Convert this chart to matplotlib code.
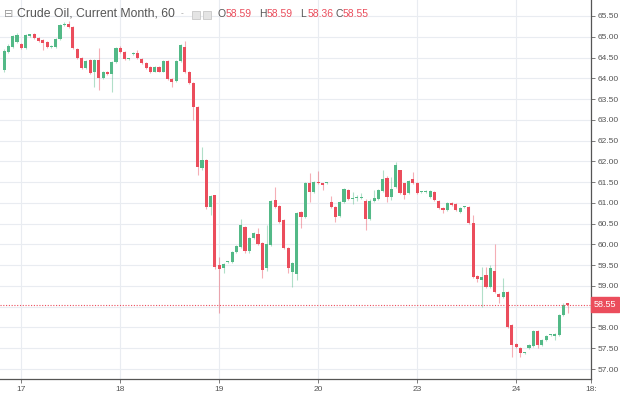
import numpy as np
import matplotlib.pyplot as plt
from matplotlib.patches import Rectangle

# hourly candles, Crude Oil current month
opens = [64.20, 64.63, 64.75, 64.88, 64.83, 64.73, 65.03, 65.07, 64.97, 64.92,
         64.87, 64.76, 64.76, 64.95, 65.28, 65.31, 65.24, 64.71, 64.50, 64.25,
         64.44, 64.15, 64.44, 64.01, 64.15, 64.10, 64.39, 64.73, 64.63, 64.46,
         64.58, 64.61, 64.46, 64.37, 64.27, 64.16, 64.27, 64.16, 64.42, 63.98,
         63.94, 64.42, 64.76, 64.15, 63.89, 63.31, 61.84, 62.03, 60.90, 61.18,
         59.50, 59.43, 59.58, 59.58, 59.82, 59.94, 60.42, 59.84, 60.15, 60.25,
         60.03, 59.44, 59.99, 61.07, 60.93, 60.59, 59.91, 59.34, 59.29, 60.78,
         60.66, 61.48, 61.26, 61.50, 61.47, 61.48, 61.02, 60.90, 60.68, 61.02,
         61.31, 61.09, 61.11, 61.12, 61.05, 60.61, 61.04, 61.10, 61.29, 61.60,
         61.14, 61.38, 61.78, 61.47, 61.24, 61.57, 61.48, 61.26, 61.27, 61.14,
         61.26, 61.05, 60.88, 60.83, 61.00, 60.97, 60.78, 60.89, 60.90, 60.52,
         59.24, 59.14, 59.26, 58.97, 59.36, 58.80, 58.73, 58.85, 58.06, 57.60,
         57.50, 57.38, 57.50, 57.55, 57.91, 57.58, 57.70, 57.81, 57.80, 57.82,
         58.30, 58.59]
highs = [64.70, 64.83, 65.05, 65.08, 64.86, 65.06, 65.07, 65.09, 64.99, 64.94,
         64.89, 64.79, 64.97, 65.30, 65.36, 65.38, 65.26, 64.73, 64.52, 64.45,
         64.47, 64.47, 64.73, 64.18, 64.17, 64.41, 64.75, 64.78, 64.65, 64.49,
         64.63, 64.68, 64.48, 64.39, 64.29, 64.29, 64.29, 64.44, 64.44, 64.00,
         64.44, 64.82, 64.90, 64.17, 63.91, 63.33, 62.35, 62.05, 61.20, 61.20,
         59.70, 59.56, 59.60, 59.84, 59.98, 60.60, 60.45, 60.17, 60.30, 60.40,
         60.05, 60.47, 61.06, 61.38, 60.95, 60.61, 59.93, 59.57, 60.78, 60.80,
         61.50, 61.72, 61.52, 61.77, 61.49, 61.50, 61.16, 60.92, 61.04, 61.35,
         61.33, 61.26, 61.20, 61.24, 61.10, 61.10, 61.30, 61.33, 61.80, 61.65,
         61.63, 61.98, 61.80, 61.49, 61.55, 61.74, 61.50, 61.28, 61.31, 61.30,
         61.28, 61.07, 60.90, 61.02, 61.02, 60.99, 60.90, 60.93, 60.92, 60.70,
         59.26, 59.46, 59.46, 59.50, 60.00, 58.82, 59.20, 58.87, 58.08, 57.62,
         57.52, 57.40, 57.60, 57.93, 57.93, 57.72, 57.82, 57.84, 57.86, 58.32,
         58.60, 58.59]
lows = [64.15, 64.60, 64.72, 64.85, 64.70, 64.70, 65.00, 64.95, 64.88, 64.68,
        64.74, 64.74, 64.74, 64.93, 65.26, 65.22, 64.70, 64.46, 64.22, 64.22,
        64.10, 63.79, 63.72, 63.98, 64.07, 63.67, 64.36, 64.60, 64.43, 64.44,
        64.56, 64.47, 64.34, 64.22, 64.13, 64.14, 64.14, 64.14, 63.96, 63.79,
        63.92, 64.40, 64.12, 63.86, 63.00, 61.67, 61.80, 60.85, 60.70, 59.40,
        58.35, 59.30, 59.56, 59.56, 59.80, 59.92, 59.80, 59.80, 60.13, 59.98,
        59.20, 59.35, 59.97, 60.88, 60.52, 59.89, 59.31, 58.98, 59.14, 60.39,
        60.64, 61.02, 61.24, 61.45, 61.31, 61.46, 60.88, 60.55, 60.66, 61.00,
        61.07, 60.97, 61.05, 61.10, 60.35, 60.59, 61.02, 61.08, 61.27, 61.02,
        61.06, 61.36, 61.22, 61.10, 61.22, 61.46, 61.22, 61.24, 61.25, 61.12,
        61.05, 60.86, 60.76, 60.81, 60.93, 60.81, 60.76, 60.87, 60.50, 59.20,
        59.10, 58.50, 58.95, 58.95, 58.84, 58.58, 58.71, 57.98, 57.30, 57.51,
        57.30, 57.36, 57.48, 57.53, 57.50, 57.56, 57.68, 57.79, 57.70, 57.80,
        58.28, 58.36]
closes = [64.66, 64.78, 65.02, 65.04, 64.73, 65.04, 65.05, 64.97, 64.90, 64.85,
          64.76, 64.77, 64.95, 65.28, 65.31, 65.24, 64.73, 64.49, 64.25, 64.42,
          64.13, 64.44, 64.01, 64.15, 64.10, 64.39, 64.73, 64.63, 64.46, 64.47,
          64.61, 64.49, 64.37, 64.25, 64.15, 64.27, 64.16, 64.42, 63.98, 63.92,
          64.42, 64.80, 64.15, 63.89, 63.31, 61.86, 62.03, 60.90, 61.17, 59.46,
          59.41, 59.53, 59.58, 59.82, 59.96, 60.47, 59.84, 60.15, 60.27, 60.00,
          59.38, 60.01, 61.04, 60.90, 60.54, 59.91, 59.43, 59.55, 60.76, 60.66,
          61.48, 61.26, 61.50, 61.47, 61.42, 61.48, 60.90, 60.66, 61.02, 61.33,
          61.09, 61.10, 61.12, 61.15, 60.60, 61.04, 61.12, 61.31, 61.58, 61.14,
          61.33, 61.91, 61.24, 61.20, 61.53, 61.48, 61.24, 61.26, 61.29, 61.28,
          61.07, 60.88, 60.83, 61.00, 60.95, 60.83, 60.88, 60.91, 60.52, 59.22,
          59.17, 59.22, 58.97, 59.43, 58.86, 58.73, 58.85, 58.00, 57.58, 57.53,
          57.38, 57.38, 57.58, 57.91, 57.58, 57.70, 57.80, 57.82, 57.84, 58.30,
          58.54, 58.55]

day_labels = ['17', '18', '19', '20', '23', '24', '18:']
day_index = [4, 27, 50, 73, 96, 119, 136.4]
price_ticks = np.arange(57.0, 65.51, 0.5)
last_price = 58.55
ohlc_text = [('O', '58.59'), ('H', '58.59'), ('L', '58.36'), ('C', '58.55')]

GREEN = '#53b987'
RED = '#eb4d5c'
GRID = '#e9ecf1'
TXT = '#555555'
plt.rcParams['font.family'] = ['Liberation Sans', 'DejaVu Sans']

o = np.array(opens); h = np.array(highs); l = np.array(lows); c = np.array(closes)
x = np.arange(len(o))
cols = np.where(c >= o, GREEN, RED)

W, H = 620, 393
fig = plt.figure(figsize=(W / 100, H / 100), dpi=100)
ax = fig.add_axes([0, 14 / H, 591 / W, 379 / H])

ppx = 41.53  # pixels per dollar
ax.set_ylim(65.5 - (379 - 16) / ppx, 65.5 + 16 / ppx)
ax.set_xlim(-0.95, 136.4)

ax.set_yticks(price_ticks)
ax.set_xticks(day_index)
ax.grid(True, color=GRID, lw=0.8)
ax.set_axisbelow(True)

ax.vlines(x, l, h, colors=cols, lw=0.8, alpha=0.45, zorder=2)
body = np.maximum(np.abs(c - o), 0.025)
ax.bar(x, body, bottom=np.minimum(o, c), width=0.72, color=cols, lw=0, zorder=3)

ax.axhline(last_price, color=RED, lw=0.8, ls=(0, (1, 1.5)), zorder=4)

ax.yaxis.tick_right()
# the last-price tag hides the label next to it
ylabels = ['' if abs(p - last_price) < 0.25 else '%.2f' % p for p in price_ticks]
ax.set_yticklabels(ylabels)
ax.set_xticklabels(day_labels)
ax.tick_params(axis='both', colors='#666666', labelsize=6, length=3, width=0.6,
               labelcolor=TXT)
ax.tick_params(axis='y', pad=2)
ax.tick_params(axis='x', pad=2)
for s in ['top', 'left']:
    ax.spines[s].set_visible(False)
for s in ['right', 'bottom']:
    ax.spines[s].set_color('#555555')
    ax.spines[s].set_linewidth(0.9)

# last price tag on the price scale
ax.text(1.004, last_price, '%.2f' % last_price, transform=ax.get_yaxis_transform(),
        ha='left', va='center', fontsize=6.5, color='white', clip_on=False,
        bbox=dict(boxstyle='square,pad=0.3', fc=RED, ec=RED))

# header
def px(xp, yp):
    return xp / W, 1 - yp / H

fig.text(*px(4, 14), '\u229f', fontsize=8, color='#999999', va='center',
         family='DejaVu Sans')
fig.text(*px(17, 14), 'Crude Oil, Current Month, 60', fontsize=8.8, color=TXT,
         va='center')
fig.text(*px(181, 14), '-', fontsize=6, color='#999999', va='center')
for xb in [192, 203]:
    fig.patches.append(Rectangle(px(xb, 19), 8 / W, 8 / H, transform=fig.transFigure,
                                 fc='#e4e4e4', ec='#c8c8c8', lw=0.6))
xs = [218, 259, 300, 335]
for (k, v), xp in zip(ohlc_text, xs):
    fig.text(*px(xp, 14), k, fontsize=7.5, color=TXT, va='center')
    fig.text(*px(xp + 8, 14), v, fontsize=7.5, color=RED, va='center')

fig.savefig('out.png', dpi=100)
